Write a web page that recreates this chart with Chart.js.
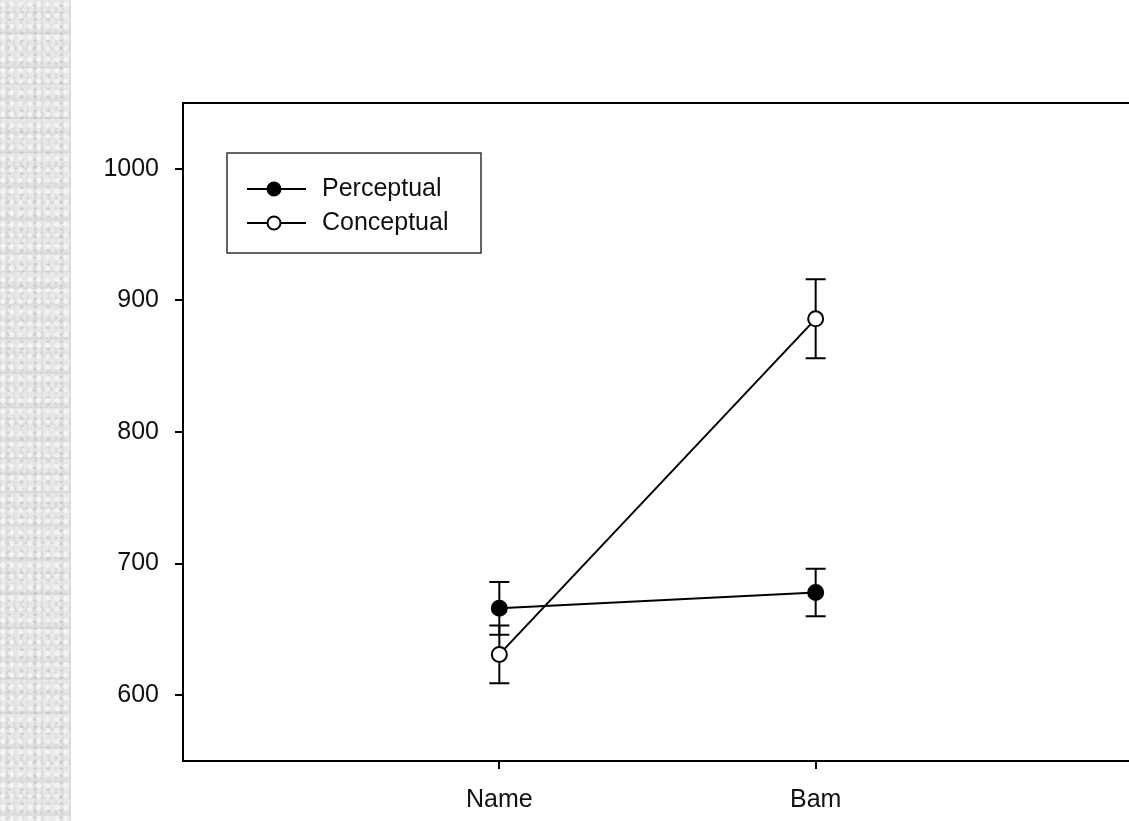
<!DOCTYPE html>
<html>
<head>
<meta charset="utf-8">
<script src="https://cdn.jsdelivr.net/npm/chart.js@4"></script>
<style>
  html, body { margin: 0; padding: 0; overflow: hidden; }
  body {
    width: 1129px; height: 821px;
    background-color: #dcdcdc;
    background-image:
      radial-gradient(ellipse at 30% 40%, rgba(250,250,250,0.7) 0 2px, transparent 3px),
      radial-gradient(ellipse at 70% 80%, rgba(185,185,185,0.45) 0 1.5px, transparent 2.5px),
      radial-gradient(ellipse at 50% 10%, rgba(240,240,240,0.6) 0 2.5px, transparent 3.5px),
      radial-gradient(ellipse at 20% 60%, rgba(200,200,200,0.5) 0 1px, transparent 2px);
    background-size: 9px 11px, 13px 7px, 7px 17px, 5px 5px;
  }
  #panel {
    position: absolute; left: 71px; top: 0;
    width: 1080px; height: 821px; background: #fff;
  }
  #grafico { display: block; }
</style>
</head>
<body>
<div id="panel"><canvas id="grafico" width="1080" height="821"></canvas></div>
<script>
// categorias e valores
var categories = ['Name', 'Bam'];
var perceptual = [666, 678];
var perceptualErr = [20, 18];
var conceptual = [631, 886];
var conceptualErr = [22, 30];
var yTicks = [600, 700, 800, 900, 1000];

var fonte = '"Liberation Sans", Arial, sans-serif';

function pontos(valores) {
    return valores.map(function (v, i) { return { x: i + 1, y: v }; });
}

// barras de erro (desenhadas antes dos pontos)
var errorBars = {
    id: 'errorBars',
    beforeDatasetsDraw: function (chart) {
        var ctx = chart.ctx;
        var xs = chart.scales.x, ys = chart.scales.y;
        var erros = [perceptualErr, conceptualErr];
        ctx.save();
        ctx.strokeStyle = '#000';
        ctx.lineWidth = 2;
        chart.data.datasets.forEach(function (ds, d) {
            ds.data.forEach(function (p, i) {
                var x = xs.getPixelForValue(p.x);
                var top = ys.getPixelForValue(p.y + erros[d][i]);
                var bot = ys.getPixelForValue(p.y - erros[d][i]);
                ctx.beginPath();
                ctx.moveTo(x, top); ctx.lineTo(x, bot);
                ctx.moveTo(x - 10, top); ctx.lineTo(x + 10, top);
                ctx.moveTo(x - 10, bot); ctx.lineTo(x + 10, bot);
                ctx.stroke();
            });
        });
        ctx.restore();
    }
};

// moldura de cima e legenda dentro da area
var moldura = {
    id: 'moldura',
    afterDraw: function (chart) {
        var ctx = chart.ctx;
        var a = chart.chartArea;
        ctx.save();
        ctx.strokeStyle = '#000';
        ctx.lineWidth = 2;
        ctx.beginPath();
        ctx.moveTo(a.left - 1, a.top);
        ctx.lineTo(a.right + 1, a.top);
        ctx.stroke();

        // caixa da legenda
        var bx = a.left + 44, by = a.top + 50;
        ctx.strokeStyle = '#333';
        ctx.lineWidth = 1.5;
        ctx.strokeRect(bx, by, 254, 100);

        ctx.font = '25px ' + fonte;
        ctx.textBaseline = 'middle';
        chart.data.datasets.forEach(function (ds, i) {
            var y = by + 36 + i * 34;
            ctx.strokeStyle = '#000';
            ctx.lineWidth = 2;
            ctx.beginPath();
            ctx.moveTo(bx + 20, y); ctx.lineTo(bx + 79, y);
            ctx.stroke();
            ctx.beginPath();
            ctx.arc(bx + 47, y, 6.5, 0, Math.PI * 2);
            ctx.fillStyle = ds.pointBackgroundColor;
            ctx.fill();
            ctx.stroke();
            ctx.fillStyle = '#111';
            ctx.fillText(ds.label, bx + 95, y);
        });
        ctx.restore();
    }
};

document.addEventListener('DOMContentLoaded', function () {
    var ctx = document.getElementById('grafico').getContext('2d');

    var dados = {
        datasets: [{
            label: 'Perceptual',
            data: pontos(perceptual),
            borderColor: '#000',
            borderWidth: 2,
            pointRadius: 7.5,
            pointBorderWidth: 2,
            pointBackgroundColor: '#000',
            pointBorderColor: '#000'
        }, {
            label: 'Conceptual',
            data: pontos(conceptual),
            borderColor: '#000',
            borderWidth: 2,
            pointRadius: 7.5,
            pointBorderWidth: 2,
            pointBackgroundColor: '#fff',
            pointBorderColor: '#000'
        }]
    };

    var options = {
        responsive: false,
        animation: false,
        layout: { padding: { top: 103, right: 19, left: 0, bottom: 0 } },
        plugins: {
            legend: { display: false },
            tooltip: { enabled: false }
        },
        scales: {
            x: {
                type: 'linear',
                min: 0,
                max: 3,
                afterBuildTicks: function (s) {
                    s.ticks = categories.map(function (c, i) { return { value: i + 1 }; });
                },
                afterFit: function (s) { s.height = 60; },
                ticks: {
                    callback: function (v) { return categories[v - 1]; },
                    color: '#111',
                    font: { family: fonte, size: 25 },
                    padding: 16,
                    maxRotation: 0
                },
                grid: { drawOnChartArea: false, tickLength: 8, color: '#000', lineWidth: 2 },
                border: { color: '#000', width: 2 }
            },
            y: {
                min: 550,
                max: 1050,
                afterBuildTicks: function (s) {
                    s.ticks = yTicks.map(function (v) { return { value: v }; });
                },
                afterFit: function (s) { s.width = 112; },
                ticks: {
                    callback: function (v) { return String(v); },
                    color: '#111',
                    font: { family: fonte, size: 25 },
                    padding: 16
                },
                grid: { drawOnChartArea: false, tickLength: 8, color: '#000', lineWidth: 2 },
                border: { color: '#000', width: 2 }
            }
        }
    };

    new Chart(ctx, {
        type: 'line',
        data: dados,
        options: options,
        plugins: [errorBars, moldura]
    });
});
</script>
</body>
</html>
